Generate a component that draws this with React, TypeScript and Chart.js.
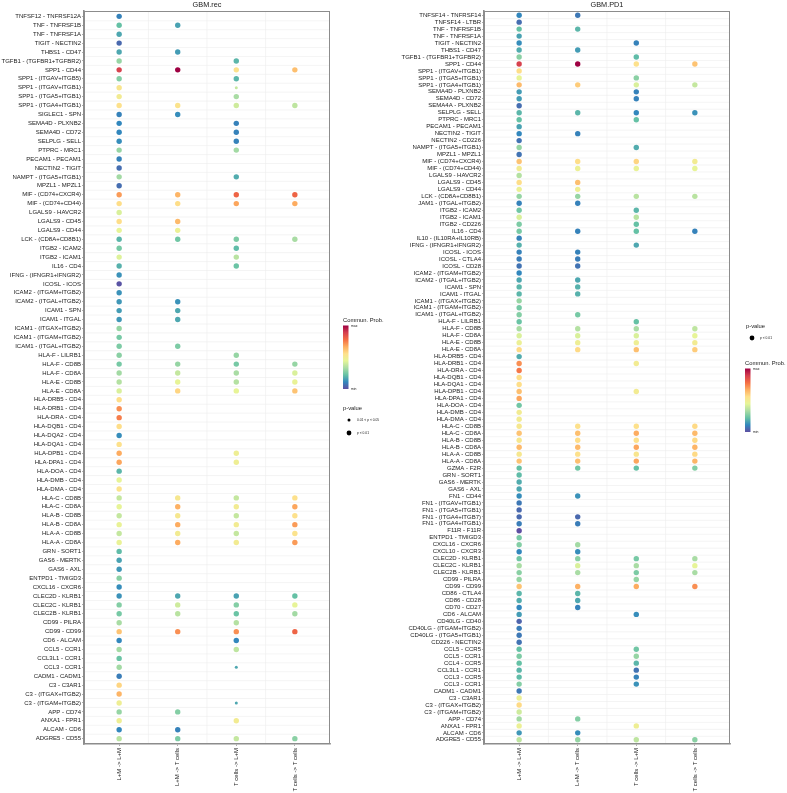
import React, { useEffect, useRef } from "react";
import { Chart, registerables } from "chart.js";

Chart.register(...registerables);

const _ = null;
const FONT = "'Liberation Sans', Arial, Helvetica, sans-serif";

// sender -> receiver groups (x axis)
const sourceTargets = ["L+M -> L+M", "L+M -> T cells", "T cells -> L+M", "T cells -> T cells"];

// ---------- GBM.rec ----------
const recPairs = [
  "TNFSF12 - TNFRSF12A", "TNF - TNFRSF1B", "TNF - TNFRSF1A", "TIGIT - NECTIN2", "THBS1 - CD47",
  "TGFB1 - (TGFBR1+TGFBR2)", "SPP1 - CD44", "SPP1 - (ITGAV+ITGB5)", "SPP1 - (ITGAV+ITGB1)", "SPP1 - (ITGA5+ITGB1)",
  "SPP1 - (ITGA4+ITGB1)", "SIGLEC1 - SPN", "SEMA4D - PLXNB2", "SEMA4D - CD72", "SELPLG - SELL",
  "PTPRC - MRC1", "PECAM1 - PECAM1", "NECTIN2 - TIGIT", "NAMPT - (ITGA5+ITGB1)", "MPZL1 - MPZL1",
  "MIF - (CD74+CXCR4)", "MIF - (CD74+CD44)", "LGALS9 - HAVCR2", "LGALS9 - CD45", "LGALS9 - CD44",
  "LCK - (CD8A+CD8B1)", "ITGB2 - ICAM2", "ITGB2 - ICAM1", "IL16 - CD4", "IFNG - (IFNGR1+IFNGR2)",
  "ICOSL - ICOS", "ICAM2 - (ITGAM+ITGB2)", "ICAM2 - (ITGAL+ITGB2)", "ICAM1 - SPN", "ICAM1 - ITGAL",
  "ICAM1 - (ITGAX+ITGB2)", "ICAM1 - (ITGAM+ITGB2)", "ICAM1 - (ITGAL+ITGB2)", "HLA-F - LILRB1", "HLA-F - CD8B",
  "HLA-F - CD8A", "HLA-E - CD8B", "HLA-E - CD8A", "HLA-DRB5 - CD4", "HLA-DRB1 - CD4",
  "HLA-DRA - CD4", "HLA-DQB1 - CD4", "HLA-DQA2 - CD4", "HLA-DQA1 - CD4", "HLA-DPB1 - CD4",
  "HLA-DPA1 - CD4", "HLA-DOA - CD4", "HLA-DMB - CD4", "HLA-DMA - CD4", "HLA-C - CD8B",
  "HLA-C - CD8A", "HLA-B - CD8B", "HLA-B - CD8A", "HLA-A - CD8B", "HLA-A - CD8A",
  "GRN - SORT1", "GAS6 - MERTK", "GAS6 - AXL", "ENTPD1 - TMIGD3", "CXCL16 - CXCR6",
  "CLEC2D - KLRB1", "CLEC2C - KLRB1", "CLEC2B - KLRB1", "CD99 - PILRA", "CD99 - CD99",
  "CD6 - ALCAM", "CCL5 - CCR1", "CCL3L1 - CCR1", "CCL3 - CCR1", "CADM1 - CADM1",
  "C3 - C3AR1", "C3 - (ITGAX+ITGB2)", "C3 - (ITGAM+ITGB2)", "APP - CD74", "ANXA1 - FPR1",
  "ALCAM - CD6", "ADGRE5 - CD55",
];

// communication probability, scaled to the panel's min..max
const recLMtoLM = [
  .10, .22, .17, .05, .17, .30, .88, .27, .53, .50,
  .55, .10, .11, .11, .12, .30, .10, .06, .32, .06,
  .70, .56, .42, .56, .45, .20, .25, .43, .19, .13,
  .01, .13, .14, .15, .14, .30, .25, .26, .28, .25,
  .32, .35, .42, .56, .72, .75, .56, .12, .55, .67,
  .68, .20, .45, .54, .38, .45, .38, .46, .38, .46,
  .21, .16, .14, .28, .12, .13, .27, .25, .33, .62,
  .11, .32, .23, .32, .09, .58, .65, .48, .30, .48,
  .11, .36,
];
const recLMtoT = [
  _, .16, _, _, .15, _, 1.0, _, _, _,
  .54, .12, _, _, _, _, _, _, _, _,
  .65, .56, _, .64, .47, .24, _, _, _, _,
  _, _, .13, .17, .17, _, _, .26, _, .30,
  .38, .45, .58, _, _, _, _, _, _, _,
  _, _, _, _, .52, .66, .52, .67, .50, .67,
  _, _, _, _, _, .17, .40, .36, _, .72,
  _, _, _, _, _, _, _, _, .27, _,
  .10, .26,
];
const recTtoLM = [
  _, _, _, _, _, .20, .55, .20, .38, .33,
  .40, _, .10, .10, .10, .32, _, _, .18, _,
  .80, .68, _, _, _, .26, .21, .36, .23, _,
  _, _, _, _, _, _, _, _, .30, .25,
  .33, .35, .45, _, _, _, _, _, _, .48,
  .48, _, _, _, .38, .50, .38, .50, .38, .50,
  _, _, _, _, _, .16, .27, .23, .35, .72,
  .11, .37, _, .17, _, _, _, .17, _, .50,
  _, .38,
];
const recTtoT = [
  _, _, _, _, _, _, .63, _, _, _,
  .37, _, _, _, _, _, _, _, _, _,
  .80, .67, _, _, _, .33, _, _, _, _,
  _, _, _, _, _, _, _, _, _, .30,
  .42, .46, .62, _, _, _, _, _, _, _,
  _, _, _, _, .55, .68, .55, .70, .54, .70,
  _, _, _, _, _, .22, .45, .32, _, .80,
  _, _, _, _, _, _, _, _, _, _,
  _, .28,
];
// interactions with 0.01 < p < 0.05 (all others p < 0.01)
const recModerateP: [string, string][] = [
  ["SPP1 - (ITGAV+ITGB1)", "T cells -> L+M"],
  ["CCL3 - CCR1", "T cells -> L+M"],
  ["C3 - (ITGAM+ITGB2)", "T cells -> L+M"],
];

// ---------- GBM.PD1 ----------
const pd1Pairs = [
  "TNFSF14 - TNFRSF14", "TNFSF14 - LTBR", "TNF - TNFRSF1B", "TNF - TNFRSF1A", "TIGIT - NECTIN2",
  "THBS1 - CD47", "TGFB1 - (TGFBR1+TGFBR2)", "SPP1 - CD44", "SPP1 - (ITGAV+ITGB1)", "SPP1 - (ITGA5+ITGB1)",
  "SPP1 - (ITGA4+ITGB1)", "SEMA4D - PLXNB2", "SEMA4D - CD72", "SEMA4A - PLXNB2", "SELPLG - SELL",
  "PTPRC - MRC1", "PECAM1 - PECAM1", "NECTIN2 - TIGIT", "NECTIN2 - CD226", "NAMPT - (ITGA5+ITGB1)",
  "MPZL1 - MPZL1", "MIF - (CD74+CXCR4)", "MIF - (CD74+CD44)", "LGALS9 - HAVCR2", "LGALS9 - CD45",
  "LGALS9 - CD44", "LCK - (CD8A+CD8B1)", "JAM1 - (ITGAL+ITGB2)", "ITGB2 - ICAM2", "ITGB2 - ICAM1",
  "ITGB2 - CD226", "IL16 - CD4", "IL10 - (IL10RA+IL10RB)", "IFNG - (IFNGR1+IFNGR2)", "ICOSL - ICOS",
  "ICOSL - CTLA4", "ICOSL - CD28", "ICAM2 - (ITGAM+ITGB2)", "ICAM2 - (ITGAL+ITGB2)", "ICAM1 - SPN",
  "ICAM1 - ITGAL", "ICAM1 - (ITGAX+ITGB2)", "ICAM1 - (ITGAM+ITGB2)", "ICAM1 - (ITGAL+ITGB2)", "HLA-F - LILRB1",
  "HLA-F - CD8B", "HLA-F - CD8A", "HLA-E - CD8B", "HLA-E - CD8A", "HLA-DRB5 - CD4",
  "HLA-DRB1 - CD4", "HLA-DRA - CD4", "HLA-DQB1 - CD4", "HLA-DQA1 - CD4", "HLA-DPB1 - CD4",
  "HLA-DPA1 - CD4", "HLA-DOA - CD4", "HLA-DMB - CD4", "HLA-DMA - CD4", "HLA-C - CD8B",
  "HLA-C - CD8A", "HLA-B - CD8B", "HLA-B - CD8A", "HLA-A - CD8B", "HLA-A - CD8A",
  "GZMA - F2R", "GRN - SORT1", "GAS6 - MERTK", "GAS6 - AXL", "FN1 - CD44",
  "FN1 - (ITGAV+ITGB1)", "FN1 - (ITGA5+ITGB1)", "FN1 - (ITGA4+ITGB7)", "FN1 - (ITGA4+ITGB1)", "F11R - F11R",
  "ENTPD1 - TMIGD3", "CXCL16 - CXCR6", "CXCL10 - CXCR3", "CLEC2D - KLRB1", "CLEC2C - KLRB1",
  "CLEC2B - KLRB1", "CD99 - PILRA", "CD99 - CD99", "CD86 - CTLA4", "CD86 - CD28",
  "CD70 - CD27", "CD6 - ALCAM", "CD40LG - CD40", "CD40LG - (ITGAM+ITGB2)", "CD40LG - (ITGA5+ITGB1)",
  "CD226 - NECTIN2", "CCL5 - CCR5", "CCL5 - CCR1", "CCL4 - CCR5", "CCL3L1 - CCR1",
  "CCL3 - CCR5", "CCL3 - CCR1", "CADM1 - CADM1", "C3 - C3AR1", "C3 - (ITGAX+ITGB2)",
  "C3 - (ITGAM+ITGB2)", "APP - CD74", "ANXA1 - FPR1", "ALCAM - CD6", "ADGRE5 - CD55",
];

const pd1LMtoLM = [
  .11, .06, .22, .16, .12, .18, .28, .88, .56, .45,
  .64, .15, .15, .06, .20, .22, .16, .11, .07, .30,
  .07, .62, .50, .35, .56, .47, .30, .10, .24, .42,
  .26, .25, .10, .19, .10, .09, .07, .11, .17, .20,
  .20, .30, .25, .27, .23, .33, .42, .47, .57, .18,
  .72, .76, .56, .56, .63, .68, .24, .50, .50, .52,
  .62, .52, .64, .52, .62, .22, .21, .18, .17, .12,
  .08, .05, .05, .09, .00, .25, .27, .11, .24, .33,
  .28, .30, .62, .20, .18, .11, .15, .04, .09, .08,
  .07, .22, .26, .22, .20, .21, .27, .08, .47, .57,
  .40, .32, .47, .14, .37,
];
const pd1LMtoT = [
  .08, _, .20, _, _, .15, _, 1.0, _, _,
  .60, _, _, _, .20, _, _, .10, _, _,
  _, .56, .47, _, .63, .48, .30, .10, _, _,
  _, .10, _, _, .10, .09, .07, _, .17, .19,
  .19, _, _, .25, _, .35, .42, .48, .57, _,
  _, _, _, _, _, _, _, _, _, .55,
  .63, .56, .64, .55, .63, .24, _, _, _, .13,
  _, _, .05, .09, _, _, .32, .12, .28, .42,
  .33, _, .66, .20, .17, .10, _, _, _, _,
  _, _, _, _, _, _, _, _, _, _,
  _, .27, _, .12, .30,
];
const pd1TtoLM = [
  _, _, _, _, .10, _, .21, .55, _, .28,
  .42, .10, .10, _, .11, .22, _, _, _, .18,
  _, .58, .46, _, _, _, .36, _, .20, .36,
  .22, .22, _, .17, _, _, _, _, _, _,
  _, _, _, _, .22, .33, .42, .48, .63, _,
  .50, _, _, _, .50, _, _, _, _, .55,
  .67, .55, .68, .53, .68, .22, _, _, _, _,
  _, _, _, _, _, _, _, _, .25, .33,
  .26, .30, .67, _, _, _, .12, _, _, _,
  _, .24, .30, .20, .07, .10, .13, _, _, _,
  _, _, .48, _, .37,
];
const pd1TtoT = [
  _, _, _, _, _, _, _, .62, _, _,
  .38, _, _, _, .13, _, _, _, _, _,
  _, .50, .45, _, _, _, .36, _, _, _,
  _, .10, _, _, _, _, _, _, _, _,
  _, _, _, _, _, .37, .45, .50, .60, _,
  _, _, _, _, _, _, _, _, _, .57,
  .64, .57, .65, .57, .65, .27, _, _, _, _,
  _, _, _, _, _, _, _, _, .33, .45,
  .33, _, .72, _, _, _, _, _, _, _,
  _, _, _, _, _, _, _, _, _, _,
  _, _, _, _, .28,
];
const pd1ModerateP: [string, string][] = [];

// reversed brewer "Spectral" (10), min -> max
const spectralRev = ["#5E4FA2", "#3288BD", "#66C2A5", "#ABDDA4", "#E6F598", "#FEE08B", "#FDAE61", "#F46D43", "#D53E4F", "#9E0142"];

function hexRgb(h: string) {
  const n = parseInt(h.slice(1), 16);
  return [(n >> 16) & 255, (n >> 8) & 255, n & 255];
}

function probColour(v: number) {
  const t = Math.min(1, Math.max(0, v)) * (spectralRev.length - 1);
  const i = Math.min(spectralRev.length - 2, Math.floor(t));
  const f = t - i;
  const a = hexRgb(spectralRev[i]);
  const b = hexRgb(spectralRev[i + 1]);
  const c = a.map((x, k) => Math.round(x + (b[k] - x) * f));
  return `rgb(${c[0]},${c[1]},${c[2]})`;
}

type PanelSpec = {
  title: string;
  pairs: string[];
  columns: (number | null)[][];
  moderate: [string, string][];
  axisWidth: number;
  padRight: number;
  legendGap: number;
  legendOrder: "colourFirst" | "pFirst";
};

const recSpec: PanelSpec = {
  title: "GBM.rec",
  pairs: recPairs,
  columns: [recLMtoLM, recLMtoT, recTtoLM, recTtoT],
  moderate: recModerateP,
  axisWidth: 84,
  padRight: 70,
  legendGap: 13,
  legendOrder: "colourFirst",
};

const pd1Spec: PanelSpec = {
  title: "GBM.PD1",
  pairs: pd1Pairs,
  columns: [pd1LMtoLM, pd1LMtoT, pd1TtoLM, pd1TtoT],
  moderate: pd1ModerateP,
  axisWidth: 89,
  padRight: 57,
  legendGap: 16,
  legendOrder: "pFirst",
};

const R_STRONG = 2.7;
const R_MODERATE = 1.5;
const TEXT = "#1a1a1a";

function drawColourLegend(ctx: CanvasRenderingContext2D, x: number, y: number) {
  ctx.fillStyle = TEXT;
  ctx.textAlign = "left";
  ctx.textBaseline = "middle";
  ctx.font = `5.8px ${FONT}`;
  ctx.fillText("Commun. Prob.", x, y);
  const top = y + 5.5;
  const bottom = y + 69;
  const g = ctx.createLinearGradient(0, bottom, 0, top);
  spectralRev.forEach((c, i) => g.addColorStop(i / (spectralRev.length - 1), c));
  ctx.fillStyle = g;
  ctx.fillRect(x, top, 5.5, bottom - top);
  ctx.fillStyle = TEXT;
  ctx.font = `3.4px ${FONT}`;
  ctx.fillText("max", x + 8, top + 1);
  ctx.fillText("min", x + 8, bottom);
}

function drawPLegend(ctx: CanvasRenderingContext2D, x: number, y: number, items: [string, number][]) {
  ctx.fillStyle = TEXT;
  ctx.textAlign = "left";
  ctx.textBaseline = "middle";
  ctx.font = `5.8px ${FONT}`;
  ctx.fillText("p-value", x, y);
  items.forEach(([label, r], k) => {
    const cy = y + 12 + k * 13;
    ctx.fillStyle = "#000";
    ctx.beginPath();
    ctx.arc(x + 6, cy, r, 0, Math.PI * 2);
    ctx.fill();
    ctx.fillStyle = TEXT;
    ctx.font = `3.3px ${FONT}`;
    ctx.fillText(label, x + 14, cy);
  });
}

function makeDecor(spec: PanelSpec) {
  return {
    id: "panelDecor",
    beforeDatasetsDraw(chart: any) {
      const { ctx, chartArea: a, scales } = chart;
      ctx.save();
      ctx.strokeStyle = "#ececec";
      ctx.lineWidth = 0.6;
      for (let i = 1; i < spec.pairs.length; i++) {
        const y = scales.y.getPixelForValue(i + 0.5);
        ctx.beginPath();
        ctx.moveTo(a.left, y);
        ctx.lineTo(a.right, y);
        ctx.stroke();
      }
      for (let j = 1; j < sourceTargets.length; j++) {
        const x = scales.x.getPixelForValue(j + 0.5);
        ctx.beginPath();
        ctx.moveTo(x, a.top);
        ctx.lineTo(x, a.bottom);
        ctx.stroke();
      }
      ctx.restore();
    },
    afterDraw(chart: any) {
      const { ctx, chartArea: a } = chart;
      ctx.save();
      ctx.strokeStyle = "#8c8c8c";
      ctx.lineWidth = 1;
      ctx.strokeRect(a.left + 0.5, a.top + 0.5, a.right - a.left - 1, a.bottom - a.top - 1);

      ctx.fillStyle = TEXT;
      ctx.font = `7.3px ${FONT}`;
      ctx.textAlign = "center";
      ctx.textBaseline = "middle";
      ctx.fillText(spec.title, (a.left + a.right) / 2, 5);

      const lx = a.right + spec.legendGap;
      if (spec.legendOrder === "colourFirst") {
        drawColourLegend(ctx, lx, 320);
        drawPLegend(ctx, lx, 408, [["0.01 < p < 0.05", R_MODERATE], ["p < 0.01", R_STRONG - 0.3]]);
      } else {
        drawPLegend(ctx, lx, 326, [["p < 0.01", R_STRONG - 0.3]]);
        drawColourLegend(ctx, lx - 1, 363);
      }
      ctx.restore();
    },
  };
}

function buildChart(canvas: HTMLCanvasElement, spec: PanelSpec) {
  const n = spec.pairs.length;
  const isModerate = (i: number, j: number) =>
    spec.moderate.some(([p, t]) => p === spec.pairs[i] && t === sourceTargets[j]);

  const datasets = spec.columns.map((col, j) => ({
    label: sourceTargets[j],
    data: col
      .map((v, i) => (v === null ? null : { x: j + 1, y: i + 1, r: isModerate(i, j) ? R_MODERATE : R_STRONG, v }))
      .filter((d) => d !== null),
    backgroundColor: (c: any) => probColour(c.raw ? c.raw.v : 0),
    borderWidth: 0,
    hoverBorderWidth: 0,
  }));

  const tickFont = { family: FONT, size: 6 };

  return new Chart(canvas, {
    type: "bubble",
    data: { datasets } as any,
    options: {
      responsive: false,
      animation: false,
      events: [],
      layout: { padding: { left: 0, right: spec.padRight, top: 11, bottom: 0 } },
      plugins: {
        legend: { display: false },
        tooltip: { enabled: false },
        title: { display: false },
      },
      scales: {
        x: {
          type: "linear",
          min: 0.4,
          max: 4.6,
          afterBuildTicks: (s: any) => {
            s.ticks = sourceTargets.map((t, j) => ({ value: j + 1 }));
          },
          afterFit: (s: any) => {
            s.height = 49;
          },
          ticks: {
            autoSkip: false,
            minRotation: 90,
            maxRotation: 90,
            padding: 2,
            color: TEXT,
            font: tickFont,
            callback: (v: any) => sourceTargets[Math.round(v) - 1],
          },
          grid: { drawOnChartArea: false, drawTicks: true, tickLength: 2, color: "#8c8c8c", lineWidth: 0.7 },
          border: { display: true, color: "#8c8c8c", width: 1.6 },
        },
        y: {
          type: "linear",
          reverse: true,
          min: 0.4,
          max: n + 0.6,
          afterBuildTicks: (s: any) => {
            s.ticks = spec.pairs.map((p, i) => ({ value: i + 1 }));
          },
          afterFit: (s: any) => {
            s.width = spec.axisWidth;
          },
          ticks: {
            autoSkip: false,
            padding: 1,
            color: TEXT,
            font: tickFont,
            callback: (v: any) => spec.pairs[Math.round(v) - 1],
          },
          grid: { drawOnChartArea: false, drawTicks: true, tickLength: 2, color: "#8c8c8c", lineWidth: 0.7 },
          border: { display: true, color: "#8c8c8c", width: 1.6 },
        },
      },
    } as any,
    plugins: [makeDecor(spec)],
  });
}

function BubblePanel({ spec, left, width }: { spec: PanelSpec; left: number; width: number }) {
  const ref = useRef<HTMLCanvasElement>(null);
  useEffect(() => {
    if (!ref.current) return;
    const chart = buildChart(ref.current, spec);
    return () => chart.destroy();
  }, [spec]);
  return (
    <canvas
      ref={ref}
      width={width}
      height={793}
      style={{ position: "absolute", left, top: 0, width, height: 793 }}
    />
  );
}

export default function App() {
  return (
    <div style={{ position: "absolute", left: 0, top: 0, width: 787, height: 793, background: "#fff", overflow: "hidden" }}>
      <BubblePanel spec={recSpec} left={0} width={400} />
      <BubblePanel spec={pd1Spec} left={395} width={392} />
    </div>
  );
}
